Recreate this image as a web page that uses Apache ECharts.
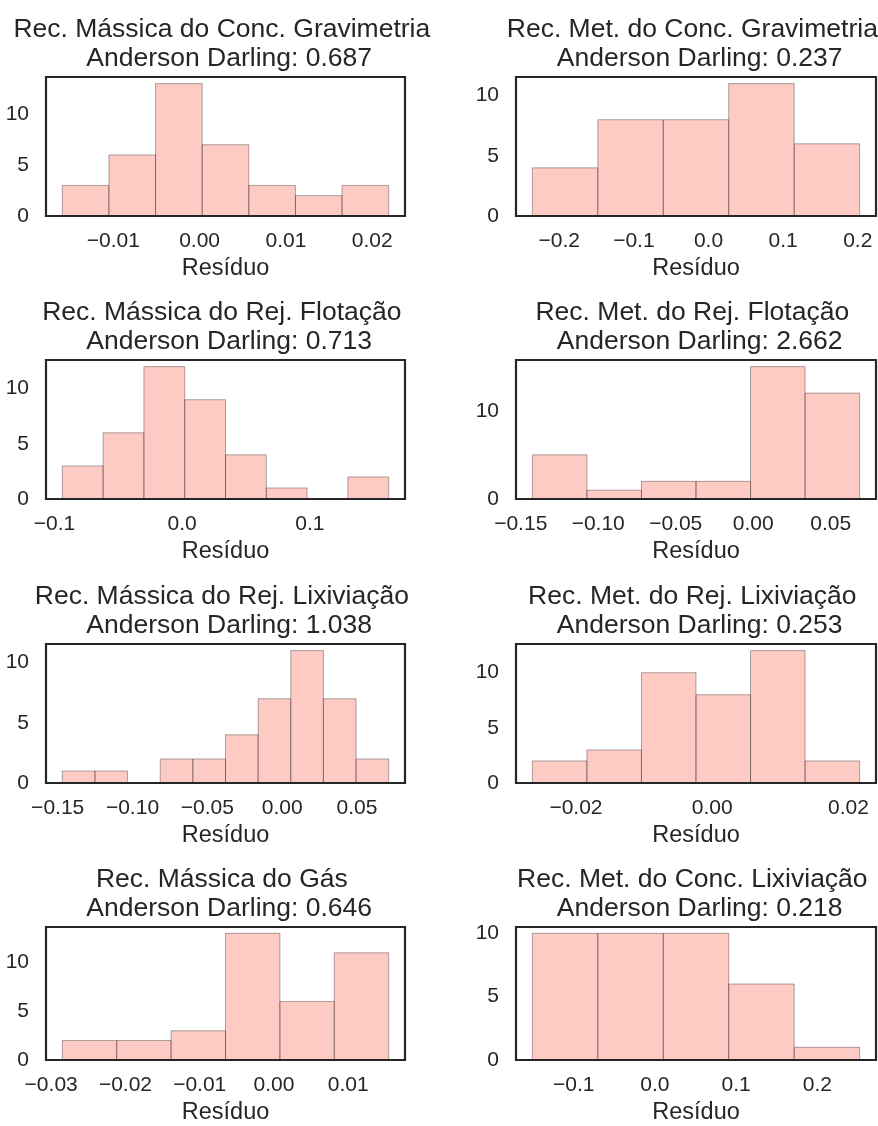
<!DOCTYPE html>
<html>
<head>
<meta charset="utf-8">
<script src="https://cdn.jsdelivr.net/npm/echarts@6/dist/echarts.min.js"></script>
<style>
  html, body { margin: 0; padding: 0; background: #ffffff; }
  #chart { width: 878px; height: 1126px; }
</style>
</head>
<body>
<div id="chart"></div>
<script>
// Residual histograms: one panel per recovery variable, with its Anderson-Darling statistic.
const panelNames = [
  'Rec. Mássica do Conc. Gravimetria', 'Rec. Met. do Conc. Gravimetria',
  'Rec. Mássica do Rej. Flotação', 'Rec. Met. do Rej. Flotação',
  'Rec. Mássica do Rej. Lixiviação', 'Rec. Met. do Rej. Lixiviação',
  'Rec. Mássica do Gás', 'Rec. Met. do Conc. Lixiviação'
];
const andersonDarling = ['0.687', '0.237', '0.713', '2.662', '1.038', '0.253', '0.646', '0.218'];

// Range of the residuals (first and last bin edge) per panel
const binLow  = [-0.0159, -0.236, -0.0939, -0.1425, -0.1469, -0.0264, -0.0285, -0.1509];
const binHigh = [ 0.0219,  0.2025, 0.1618,  0.0687,  0.0712,  0.02165, 0.01544, 0.2521];

// Counts per bin
const counts1 = [3, 6, 13, 7, 3, 2, 3];
const counts2 = [4, 8, 8, 11, 6];
const counts3 = [3, 6, 12, 9, 4, 1, 0, 2];
const counts4 = [5, 1, 2, 2, 15, 12];
const counts5 = [1, 1, 0, 2, 2, 4, 7, 11, 7, 2];
const counts6 = [2, 3, 10, 8, 12, 2];
const counts7 = [2, 2, 3, 13, 6, 11];
const counts8 = [10, 10, 10, 6, 1];
const allCounts = [counts1, counts2, counts3, counts4, counts5, counts6, counts7, counts8];

// Tick values and decimals of the labels
const xTicks1 = [-0.01, 0, 0.01, 0.02];
const xTicks2 = [-0.2, -0.1, 0, 0.1, 0.2];
const xTicks3 = [-0.1, 0, 0.1];
const xTicks4 = [-0.15, -0.10, -0.05, 0, 0.05];
const xTicks5 = [-0.15, -0.10, -0.05, 0, 0.05];
const xTicks6 = [-0.02, 0, 0.02];
const xTicks7 = [-0.03, -0.02, -0.01, 0, 0.01];
const xTicks8 = [-0.1, 0, 0.1, 0.2];
const allXTicks = [xTicks1, xTicks2, xTicks3, xTicks4, xTicks5, xTicks6, xTicks7, xTicks8];
const xDecimals = [2, 1, 1, 2, 2, 2, 2, 1];
const yTicksDefault = [0, 5, 10];
const yTicksWide = [0, 10];
const allYTicks = [yTicksDefault, yTicksDefault, yTicksDefault, yTicksWide,
                   yTicksDefault, yTicksDefault, yTicksDefault, yTicksDefault];
const xAxisName = 'Resíduo';

// Layout
const FONT = "'Liberation Sans', Arial, Helvetica, sans-serif";
const TEXT = '#262626';
const colLeft = [46, 516];
const colWidth = [359, 360];
const rowTop = [77, 360, 644, 927];
const plotHeight = 139;

function fmtTick(v, d) {
  const s = Math.abs(v).toFixed(d);
  return (v < -1e-12 ? '\u2212' : '') + s;
}

function renderBin(params, api) {
  const topLeft = api.coord([api.value(0), api.value(2)]);
  const bottomRight = api.coord([api.value(1), 0]);
  return {
    type: 'rect',
    shape: {
      x: topLeft[0],
      y: topLeft[1],
      width: bottomRight[0] - topLeft[0],
      height: bottomRight[1] - topLeft[1]
    },
    style: {
      fill: 'rgba(250,128,114,0.42)',
      stroke: 'rgba(0,0,0,0.32)',
      lineWidth: 1
    }
  };
}

const grids = [], xAxes = [], yAxes = [], series = [], titles = [];

allCounts.forEach((counts, i) => {
  const col = i % 2, row = Math.floor(i / 2);
  const lo = binLow[i], hi = binHigh[i];
  const span = hi - lo;
  const n = counts.length;
  const step = span / n;
  const bins = counts.map((c, k) => [lo + k * step, lo + (k + 1) * step, c]);
  const yMax = Math.max(...counts) * 1.05;
  const dec = xDecimals[i];

  grids.push({
    left: colLeft[col], top: rowTop[row], width: colWidth[col], height: plotHeight,
    show: true, borderColor: TEXT, borderWidth: 2.2, backgroundColor: 'transparent', z: 5
  });

  xAxes.push({
    gridIndex: i, type: 'value',
    min: lo - 0.05 * span, max: hi + 0.05 * span,
    axisLine: { show: false }, axisTick: { show: false }, splitLine: { show: false },
    axisLabel: {
      customValues: allXTicks[i],
      formatter: v => fmtTick(v, dec),
      fontFamily: FONT, fontSize: 21, color: TEXT, margin: 15
    },
    name: xAxisName, nameLocation: 'middle', nameGap: 41,
    nameTextStyle: { fontFamily: FONT, fontSize: 23.5, color: TEXT }
  });

  yAxes.push({
    gridIndex: i, type: 'value', min: 0, max: yMax,
    axisLine: { show: false }, axisTick: { show: false }, splitLine: { show: false },
    axisLabel: {
      customValues: allYTicks[i],
      formatter: v => String(Math.round(v)),
      fontFamily: FONT, fontSize: 21, color: TEXT, margin: 17
    }
  });

  series.push({
    type: 'custom', xAxisIndex: i, yAxisIndex: i,
    renderItem: renderBin, data: bins, z: 1,
    encode: { x: [0, 1], y: 2 }, silent: true, animation: false
  });

  titles.push({
    text: panelNames[i] + ' \n Anderson Darling: ' + andersonDarling[i],
    left: colLeft[col] + colWidth[col] / 2,
    top: rowTop[row] - 62,
    textAlign: 'center', padding: 0,
    textStyle: { fontFamily: FONT, fontSize: 26.5, fontWeight: 'normal', color: TEXT, lineHeight: 29 }
  });
});

const chart = echarts.init(document.getElementById('chart'), null, { renderer: 'canvas' });
chart.setOption({
  animation: false,
  backgroundColor: '#ffffff',
  title: titles,
  grid: grids,
  xAxis: xAxes,
  yAxis: yAxes,
  series: series
});
</script>
</body>
</html>
